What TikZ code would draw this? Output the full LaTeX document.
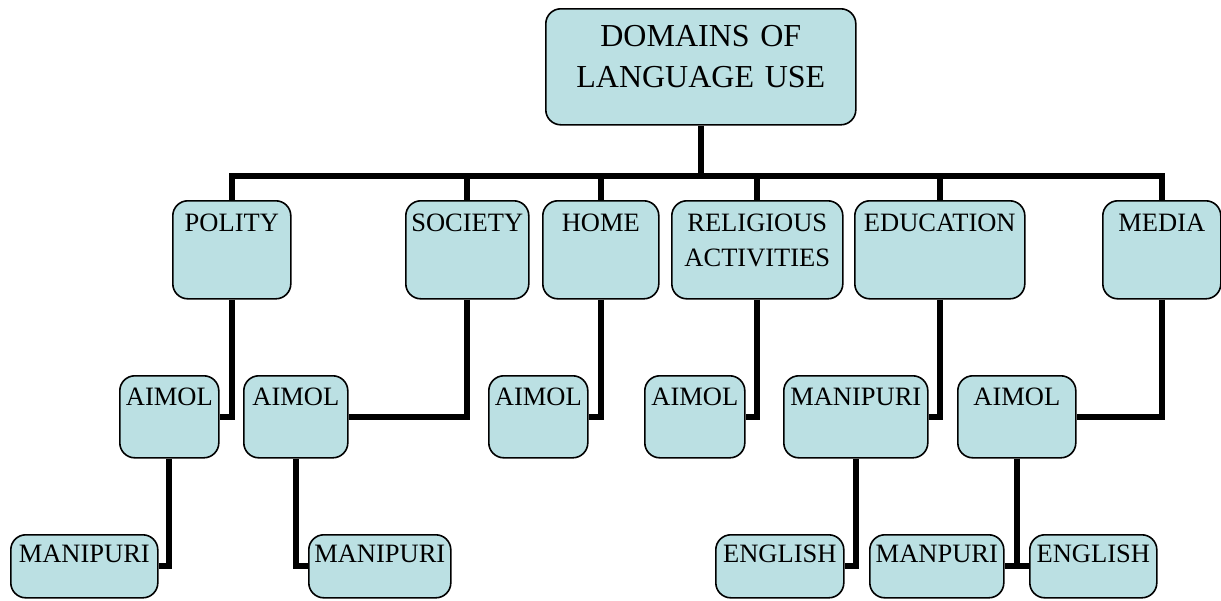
\documentclass[tikz,border=0pt]{standalone}
\usepackage{fontspec}
\setmainfont{Liberation Serif}
\usepackage{tikz}
\usepackage{xcolor}
\usetikzlibrary{positioning, calc}
\definecolor{cBox}{RGB}{187,224,227}
\tikzset{
    dombox/.style ={rectangle, rounded corners=7.5pt, draw=black, line width=0.8pt, fill=cBox, inner sep=0pt, align=center, anchor=north west, font=\fontsize{13.25}{17.5}\selectfont},
    rootbox/.style={dombox, text width=155pt, text height=19pt, text depth=39pt, font=\fontsize{16}{20.5}\selectfont},
    toprow/.style ={dombox, text height=15.5pt, text depth=33.5pt},
    midrow/.style ={dombox, text height=15pt, text depth=26pt},
    lowrow/.style ={dombox, text height=14pt, text depth=17.5pt},
    link/.style   ={line width=3pt},
}

\begin{document}
\begin{tikzpicture}[x=0.5pt, y=-0.5pt]
                \useasboundingbox (0,0) rectangle (1221,600);
                % root
                \node[rootbox] (root) at (545,8) {DOMAINS OF\\LANGUAGE USE};
                \coordinate (bus) at (0,176);
                % domains
                \node[toprow, text width=59pt]   (polity)  at (172,200)  {POLITY};
                \node[toprow, text width=61.5pt] (society) at (405,200)  {SOCIETY};
                \node[toprow, text width=58pt]   (home)    at (542,200)  {HOME};
                \node[toprow, text width=85.5pt] (relig)   at (671,200)  {RELIGIOUS\\ACTIVITIES};
                \node[toprow, text width=85pt]   (educ)    at (854,200)  {EDUCATION};
                \node[toprow, text width=59pt]   (media)   at (1102,200) {MEDIA};
                % languages
                \node[midrow, text width=49.5pt] (polityA)  at (119,375) {AIMOL};
                \node[midrow, text width=52pt]   (societyA) at (243,375) {AIMOL};
                \node[midrow, text width=49.5pt] (homeA)    at (488,375) {AIMOL};
                \node[midrow, text width=50pt]   (religA)   at (644,375) {AIMOL};
                \node[midrow, text width=72pt]   (educM)    at (783,375) {MANIPURI};
                \node[midrow, text width=59pt]   (mediaA)   at (957,375) {AIMOL};
                \node[lowrow, text width=73.5pt] (polityM)  at (10,534)   {MANIPURI};
                \node[lowrow, text width=71pt]   (societyM) at (308,534)  {MANIPURI};
                \node[lowrow, text width=64pt]   (educE)    at (715,534)  {ENGLISH};
                \node[lowrow, text width=67pt]   (mediaM)   at (869,534)  {MANPURI};
                \node[lowrow, text width=63.5pt] (mediaE)   at (1029,534) {ENGLISH};
                % connectors
                \draw[link] (root.south) -- (root.south |- bus);
                \foreach \n in {polity, society, home, relig, educ, media}
                    \draw[link] (root.south |- bus) -| (\n.north);
                \draw[link] (polity.south)  |- (polityA.east);
                \draw[link] (society.south) |- (societyA.east);
                \draw[link] (home.south)    |- (homeA.east);
                \draw[link] (relig.south)   |- (religA.east);
                \draw[link] (educ.south)    |- (educM.east);
                \draw[link] (media.south)   |- (mediaA.east);
                \draw[link] (polityA.south)  |- (polityM.east);
                \draw[link] (societyA.south) |- (societyM.west);
                \draw[link] (educM.south)    |- (educE.east);
                \draw[link] (mediaA.south)   |- (mediaM.east);
                \draw[link] (mediaA.south)   |- (mediaE.west);
            \end{tikzpicture}
\end{document}
